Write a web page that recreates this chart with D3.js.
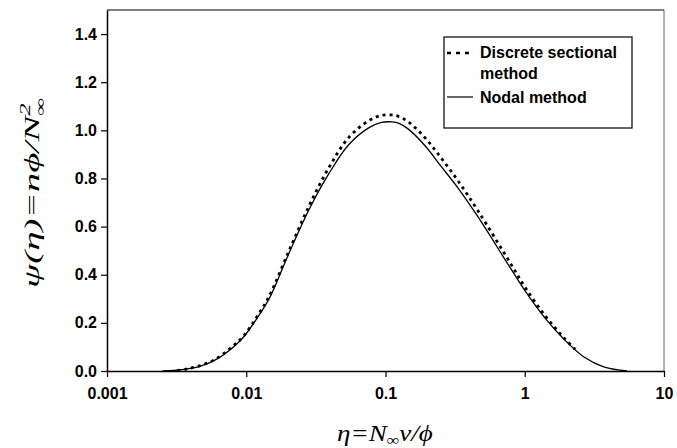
<!DOCTYPE html>
<html>
<head>
<meta charset="utf-8">
<script src="https://cdn.jsdelivr.net/npm/d3@7/dist/d3.min.js"></script>
<style>
html,body{margin:0;padding:0;background:#fff;}
svg{display:block;}
</style>
</head>
<body>
<svg id="chart" width="677" height="448"></svg>
<script>
// ---- data ----
const xTicks = [0.001, 0.01, 0.1, 1, 10];
const xTickLabels = ["0.001", "0.01", "0.1", "1", "10"];
const yTicks = [0.0, 0.2, 0.4, 0.6, 0.8, 1.0, 1.2, 1.4];
const yTickLabels = ["0.0", "0.2", "0.4", "0.6", "0.8", "1.0", "1.2", "1.4"];
const seriesNames = ["Discrete sectional method", "Nodal method"];

const nodalEta = [0.0025, 0.003, 0.0037, 0.0046, 0.006, 0.0079, 0.0095, 0.0122, 0.0146, 0.0203, 0.0282, 0.0392, 0.0544, 0.0757, 0.0936, 0.112, 0.124, 0.146, 0.193, 0.251, 0.332, 0.462, 0.794, 1.0, 1.39, 1.93, 2.68, 3.73, 5.44];
const nodalPsi = [0.0, 0.002, 0.008, 0.018, 0.046, 0.095, 0.139, 0.227, 0.30, 0.49, 0.67, 0.82, 0.94, 1.01, 1.033, 1.035, 1.03, 1.005, 0.935, 0.85, 0.76, 0.64, 0.425, 0.335, 0.222, 0.13, 0.057, 0.016, 0.0];

const discreteEta = [0.0032, 0.0037, 0.0046, 0.006, 0.0079, 0.0095, 0.0122, 0.0146, 0.0203, 0.0282, 0.0392, 0.0544, 0.0757, 0.093, 0.11, 0.124, 0.146, 0.193, 0.251, 0.332, 0.462, 0.794, 1.0, 1.39, 1.93, 2.3];
const discretePsi = [0.002, 0.008, 0.021, 0.049, 0.1, 0.143, 0.234, 0.31, 0.5, 0.685, 0.845, 0.97, 1.04, 1.062, 1.064, 1.058, 1.035, 0.968, 0.885, 0.79, 0.665, 0.445, 0.35, 0.232, 0.135, 0.09];

// ---- layout ----
const svg = d3.select("#chart");
const x = d3.scaleLog().domain([0.001, 10]).range([107, 664]);
const y = d3.scaleLinear().domain([0, 1.5]).range([371, 10]);
const tickFont = "'Liberation Sans', Arial, sans-serif";
const serif = "'Liberation Serif', 'Times New Roman', serif";

// frame top/right
svg.append("line").attr("x1", x(0.001)).attr("x2", x(10)).attr("y1", y(1.5)).attr("y2", y(1.5))
  .attr("stroke", "#000").attr("stroke-width", 1.2);
svg.append("line").attr("x1", x(10)).attr("x2", x(10)).attr("y1", y(1.5)).attr("y2", y(0))
  .attr("stroke", "#666").attr("stroke-width", 1);

// axes
const xAxis = d3.axisBottom(x).tickValues(xTicks).tickFormat((d, i) => xTickLabels[i]).tickSize(6).tickSizeOuter(0);
const gx = svg.append("g").attr("transform", `translate(0,${y(0)})`).call(xAxis);
gx.select(".domain").attr("stroke-width", 1.5);
gx.selectAll(".tick line").attr("stroke-width", 1.2);
gx.selectAll("text").attr("font-family", tickFont).attr("font-weight", "bold").attr("font-size", 16)
  .attr("fill", "#000").attr("dy", "1.2em");

const yAxis = d3.axisLeft(y).tickValues(yTicks).tickFormat((d, i) => yTickLabels[i]).tickSize(6).tickSizeOuter(0);
const gy = svg.append("g").attr("transform", `translate(${x(0.001)},0)`).call(yAxis);
gy.select(".domain").attr("stroke-width", 1.5);
gy.selectAll(".tick line").attr("stroke-width", 1.2);
gy.selectAll("text").attr("font-family", tickFont).attr("font-weight", "bold").attr("font-size", 16)
  .attr("fill", "#000").attr("x", -10);

// curves
const line = d3.line().x(d => x(d[0])).y(d => y(d[1])).curve(d3.curveCatmullRom.alpha(0.5));
svg.append("path").datum(nodalEta.map((e, i) => [e, nodalPsi[i]]))
  .attr("d", line).attr("fill", "none").attr("stroke", "#000").attr("stroke-width", 1.3);
svg.append("path").datum(discreteEta.map((e, i) => [e, discretePsi[i]]))
  .attr("d", line).attr("fill", "none").attr("stroke", "#000").attr("stroke-width", 2.8)
  .attr("stroke-dasharray", "3,4");

// legend
const lg = svg.append("g");
lg.append("rect").attr("x", 444).attr("y", 37).attr("width", 188).attr("height", 91)
  .attr("fill", "#fff").attr("stroke", "#000").attr("stroke-width", 1.2);
lg.append("line").attr("x1", 447).attr("x2", 473).attr("y1", 53).attr("y2", 53)
  .attr("stroke", "#000").attr("stroke-width", 2.6).attr("stroke-dasharray", "4,5");
lg.append("line").attr("x1", 447).attr("x2", 473).attr("y1", 97).attr("y2", 97)
  .attr("stroke", "#000").attr("stroke-width", 1.2);
const lt = lg.append("text").attr("font-family", tickFont).attr("font-weight", "bold").attr("font-size", 16).attr("fill", "#000");
lt.append("tspan").attr("x", 480).attr("y", 58).text("Discrete sectional");
lt.append("tspan").attr("x", 480).attr("y", 79).text("method");
lg.append("text").attr("x", 480).attr("y", 103).attr("font-family", tickFont).attr("font-weight", "bold")
  .attr("font-size", 16).attr("fill", "#000").text(seriesNames[1]);

// x title
const xt = svg.append("text").attr("font-family", serif).attr("font-style", "italic").attr("font-size", 23).attr("fill", "#000");
xt.append("tspan").text("η=N");
xt.append("tspan").attr("font-size", 15).attr("dy", 4).text("∞");
xt.append("tspan").attr("dy", -4).text("v/ϕ");
{
  const bb = xt.node().getBBox();
  const sx = 96 / bb.width;
  xt.attr("transform", `translate(${385 - bb.width * sx / 2},441) scale(${sx},1)`);
}

// y title
const yt = svg.append("text").attr("font-family", serif).attr("font-style", "italic").attr("font-size", 22).attr("fill", "#000");
yt.append("tspan").text("ψ(η)=nϕ/N");
yt.append("tspan").attr("font-size", 14).attr("dy", -9).text("2");
yt.append("tspan").attr("font-size", 14).attr("dx", -7).attr("dy", 15).text("∞");
{
  const bb = yt.node().getBBox();
  const sx = 190 / bb.width;
  yt.attr("transform", `translate(39,${193 + bb.width * sx / 2}) rotate(-90) scale(${sx},1)`);
}
</script>
</body>
</html>
